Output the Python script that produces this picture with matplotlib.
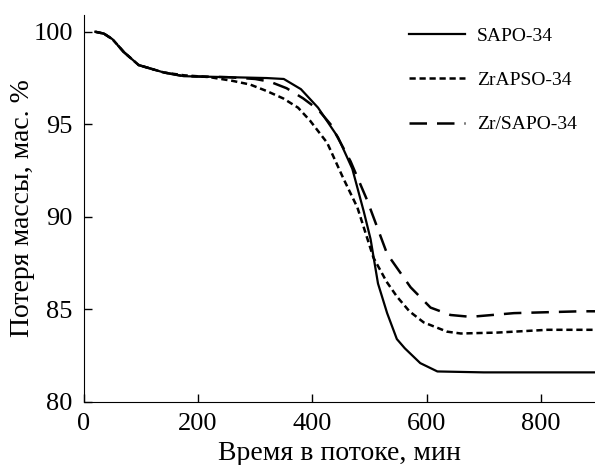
import matplotlib
matplotlib.use("Agg")
import matplotlib.pyplot as plt

plt.rcParams['font.family'] = ['Liberation Serif', 'DejaVu Serif']

# SAPO-34
t_sapo = [20, 35, 50, 70, 96, 140, 175, 250, 320, 350, 380, 410, 445, 470, 490,
          502, 515, 531, 548, 562, 589, 619, 700, 800, 895]
m_sapo = [100, 99.9, 99.6, 98.9, 98.2, 97.8, 97.6, 97.55, 97.5, 97.45, 96.9, 95.9,
          94.3, 92.6, 90.3, 88.8, 86.4, 84.8, 83.4, 82.9, 82.1, 81.65, 81.6,
          81.6, 81.6]

# ZrAPSO-34
t_zrapso = [20, 35, 50, 70, 96, 140, 175, 220, 260, 291, 320, 349, 375, 396, 426,
            454, 479, 507, 530, 548, 570, 595, 636, 660, 724, 812, 895]
m_zrapso = [100, 99.9, 99.6, 98.9, 98.2, 97.8, 97.65, 97.55, 97.35, 97.15, 96.8,
            96.4, 95.9, 95.2, 94.0, 92.1, 90.5, 87.8, 86.5, 85.7, 84.9, 84.3,
            83.8, 83.7, 83.75, 83.9, 83.9]

# Zr/SAPO-34
t_zrsapo = [20, 35, 50, 70, 96, 140, 175, 250, 300, 326, 355, 384, 410, 432, 467,
            496, 531, 572, 607, 642, 677, 753, 870, 895]
m_zrsapo = [100, 99.9, 99.6, 98.9, 98.2, 97.8, 97.6, 97.55, 97.45, 97.3, 96.95, 96.4,
            95.8, 95.0, 93.0, 90.9, 88.0, 86.2, 85.1, 84.7, 84.6, 84.8, 84.9,
            84.9]

fig = plt.figure(figsize=(5.95, 4.65), dpi=100)
ax = fig.add_axes([0.141, 0.1355, 0.859, 0.832])

ax.plot(t_sapo, m_sapo, color='black', lw=1.6, ls='-', label='SAPO-34')
ax.plot(t_zrapso, m_zrapso, color='black', lw=1.8, ls=(0, (2.5, 1.5)), label='ZrAPSO-34')
ax.plot(t_zrsapo, m_zrsapo, color='black', lw=1.8, ls=(0, (7, 4)), label='Zr/SAPO-34')

ax.set_xlim(0, 895)
ax.set_ylim(80, 100.9)
ax.set_xticks([0, 200, 400, 600, 800])
ax.set_yticks([80, 85, 90, 95, 100])
ax.tick_params(direction='in', length=6, width=1, labelsize=19, pad=8)
ax.spines['top'].set_visible(False)
ax.spines['right'].set_visible(False)

ax.set_xlabel('Время в потоке, мин', fontsize=20, labelpad=4)
ax.set_ylabel('Потеря массы, мас. %', fontsize=20, labelpad=-1)

ax.legend(loc='upper left', bbox_to_anchor=(0.687, 0.942),
          bbox_transform=fig.transFigure, frameon=False, borderpad=0,
          borderaxespad=0, fontsize=14, handlelength=2.9, labelspacing=1.38,
          handletextpad=0.6)

fig.savefig('out.png', dpi=100)
